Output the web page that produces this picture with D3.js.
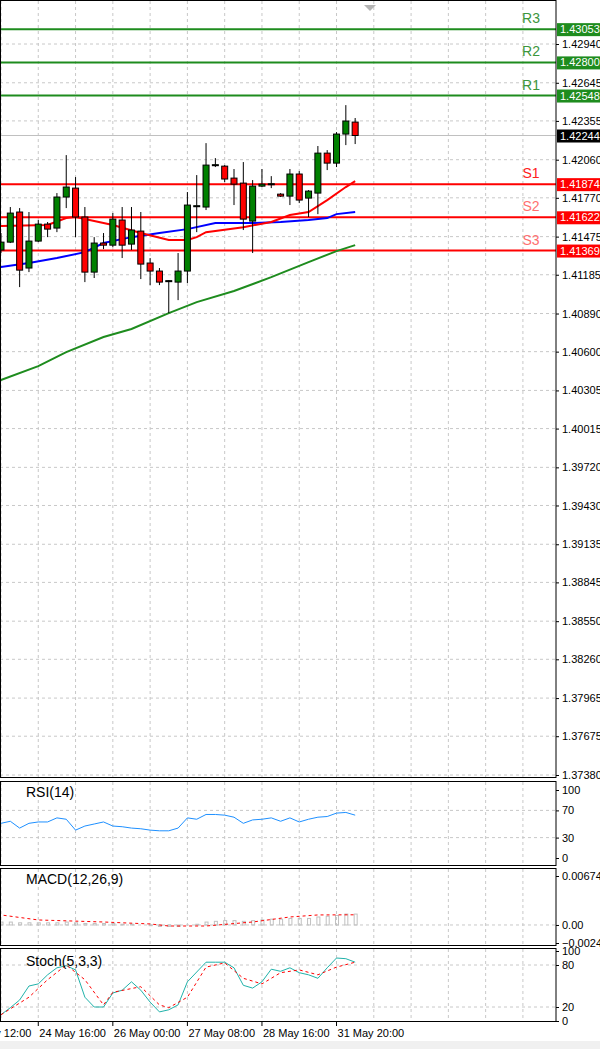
<!DOCTYPE html>
<html>
<head>
<meta charset="utf-8">
<script src="https://cdn.jsdelivr.net/npm/d3@7"></script>
<style>
  body { margin: 0; background: #fff; }
  svg { display: block; font-family: "Liberation Sans", Arial, sans-serif; }
</style>
</head>
<body>
<div class="canvas"></div>
<script>
// H4 candles, [open, high, low, close]
const candles = [
    [1.41373, 1.41502, 1.41350, 1.41433], [1.41433, 1.41700, 1.41426, 1.41654],
    [1.41662, 1.41692, 1.41091, 1.41220], [1.41236, 1.41662, 1.41205, 1.41441],
    [1.41441, 1.41601, 1.41433, 1.41570], [1.41570, 1.41586, 1.41471, 1.41532],
    [1.41540, 1.41806, 1.41509, 1.41776], [1.41776, 1.42095, 1.41692, 1.41852],
    [1.41844, 1.41928, 1.41471, 1.41624], [1.41624, 1.41700, 1.41129, 1.41205],
    [1.41205, 1.41471, 1.41160, 1.41426], [1.41426, 1.41502, 1.41380, 1.41410],
    [1.41410, 1.41654, 1.41395, 1.41608], [1.41601, 1.41700, 1.41312, 1.41410],
    [1.41418, 1.41700, 1.41373, 1.41525], [1.41517, 1.41662, 1.41152, 1.41266],
    [1.41274, 1.41312, 1.41106, 1.41213], [1.41213, 1.41236, 1.41106, 1.41129],
    [1.41137, 1.41144, 1.40893, 1.41140], [1.41129, 1.41350, 1.40992, 1.41213],
    [1.41213, 1.41814, 1.41122, 1.41715], [1.41707, 1.41943, 1.41509, 1.41710],
    [1.41700, 1.42186, 1.41677, 1.42019], [1.42019, 1.42072, 1.42004, 1.42022],
    [1.42011, 1.42019, 1.41890, 1.41913], [1.41920, 1.41989, 1.41715, 1.41874],
    [1.41882, 1.42042, 1.41525, 1.41608], [1.41593, 1.41905, 1.41350, 1.41859],
    [1.41859, 1.41989, 1.41852, 1.41874], [1.41874, 1.41935, 1.41844, 1.41877],
    [1.41798, 1.41806, 1.41776, 1.41783], [1.41783, 1.41989, 1.41715, 1.41951],
    [1.41951, 1.41973, 1.41730, 1.41753], [1.41768, 1.41829, 1.41624, 1.41821],
    [1.41806, 1.42164, 1.41646, 1.42110], [1.42110, 1.42133, 1.41981, 1.42034],
    [1.42034, 1.42270, 1.42004, 1.42255], [1.42255, 1.42475, 1.42171, 1.42354],
    [1.42346, 1.42377, 1.42179, 1.42244]
];

// moving averages, [candle index, value]
const maRed = [[-1, 1.41555], [0, 1.41555], [5, 1.41563], [7, 1.41616], [8, 1.41624], [10, 1.41593],
    [12, 1.41563], [15, 1.41502], [18, 1.41449], [20, 1.41449], [21, 1.41471], [22, 1.41509],
    [26, 1.41547], [29, 1.41586], [31, 1.41639], [33, 1.41662], [35, 1.41753], [37, 1.41852], [38, 1.41897]];
const maBlue = [[-1, 1.41236], [0, 1.41243], [3, 1.41274], [6, 1.41312], [9, 1.41357], [11, 1.41426],
    [14, 1.41471], [17, 1.41502], [20, 1.41532], [23, 1.41578], [27, 1.41578], [30, 1.41586],
    [33, 1.41601], [35, 1.41616], [36, 1.41646], [38, 1.41662]];
const maGreen = [[-1, 1.40370], [0, 1.40384], [4, 1.40490], [7, 1.40597], [11, 1.40711], [14, 1.40772],
    [18, 1.40893], [21, 1.40977], [25, 1.41061], [29, 1.41167], [33, 1.41281], [36, 1.41365], [38, 1.41410]];

const levels = [
    { name: 'R3', value: 1.43053, type: 'r' }, { name: 'R2', value: 1.42800, type: 'r' },
    { name: 'R1', value: 1.42548, type: 'r' }, { name: 'S1', value: 1.41874, type: 's1' },
    { name: 'S2', value: 1.41622, type: 's' }, { name: 'S3', value: 1.41369, type: 's' }
];
const lastPrice = 1.42244;

const priceTicks = [1.42940, 1.42645, 1.42355, 1.42060, 1.41770, 1.41475, 1.41185, 1.40890, 1.40600,
    1.40305, 1.40015, 1.39720, 1.39430, 1.39135, 1.38845, 1.38550, 1.38260, 1.37965, 1.37675, 1.37380];

const rsi = [51, 54, 44, 51, 53, 53, 59, 57, 41, 47, 50, 53, 47, 46, 44, 43, 41, 40, 40, 44,
    59, 57, 64, 64, 63, 60, 51, 56, 57, 59, 54, 59, 53, 57, 60, 61, 66, 67, 63];
const macdHist = [0.0004, 0.0004, 0.0003, 0.0003, 0.0003, 0.0003, 0.0003, 0.0004, 0.0003, 0.0002,
    0.0002, 0.0002, 0.0002, 0.0001, 0.0001, 0.0000, -0.0001, -0.0002, -0.0002, -0.0002,
    0.0000, 0.0001, 0.0004, 0.0005, 0.0006, 0.0006, 0.0005, 0.0006, 0.0007, 0.0008,
    0.0008, 0.0009, 0.0009, 0.0009, 0.0011, 0.0012, 0.0013, 0.0015, 0.0015];
const macdSignal = [[-1, 0.00150], [0, 0.00138], [4, 0.00069], [11, 0.00041], [16, 0.00014], [18, -0.00014],
    [22, -0.00014], [27, 0.00041], [31, 0.00110], [34, 0.00138], [38, 0.00140]];
const stochMain = [9, 19, 30, 50, 53, 66, 76, 79, 73, 34, 20, 20, 40, 44, 56, 44, 27, 13, 16, 23,
    56, 70, 84, 84, 84, 76, 51, 47, 56, 74, 71, 76, 69, 66, 61, 76, 90, 89, 84];
const stochSignal = [[0, 9], [3, 34], [5, 59], [7, 80], [9, 59], [11, 23], [12, 41], [15, 49], [17, 23],
    [18, 19], [20, 34], [22, 77], [24, 83], [26, 61], [28, 53], [30, 69], [32, 73], [34, 66], [36, 77], [38, 84]];

const timeLabels = ['23 May 12:00', '24 May 16:00', '26 May 00:00', '27 May 08:00', '28 May 16:00', '31 May 20:00'];
const timeIdx = [-4, 4, 12, 20, 28, 36];

const W = 600, H = 1049, plotR = 556;
const panels = {
    main: { top: 1, bottom: 778 },
    rsi: { top: 782, bottom: 866 },
    macd: { top: 869, bottom: 946 },
    stoch: { top: 949, bottom: 1022 }
};

const svg = d3.select('.canvas').append('svg').attr('width', W).attr('height', H);

const x = d3.scaleLinear().domain([0, 1]).range([1, 10.32]);
const y = d3.scaleLinear().domain([1.37380, 1.42940]).range([775, 44]);
const yRsi = d3.scaleLinear().domain([0, 100]).range([858, 790]);
const yMacd = d3.scaleLinear().domain([-0.00248, 0.00674]).range([943, 876]);
const yStoch = d3.scaleLinear().domain([0, 100]).range([1021, 951]);

svg.append('defs').selectAll('clipPath').data(Object.entries(panels)).enter()
    .append('clipPath').attr('id', d => 'clip-' + d[0])
    .append('rect').attr('x', 0).attr('y', d => d[1].top).attr('width', plotR).attr('height', d => d[1].bottom - d[1].top);

const gridX = d3.range(-4, 60, 4).map(i => x(i));
const grid = (name, ys) => {
    const g = svg.append('g').attr('clip-path', `url(#clip-${name})`)
        .attr('stroke', '#c8c8c8').attr('stroke-dasharray', '3,3');
    g.selectAll('.gx').data(gridX).enter().append('line')
        .attr('x1', d => d).attr('x2', d => d).attr('y1', panels[name].top).attr('y2', panels[name].bottom);
    g.selectAll('.gy').data(ys).enter().append('line')
        .attr('x1', 0).attr('x2', plotR).attr('y1', d => d).attr('y2', d => d);
};
grid('main', priceTicks.map(y));
grid('rsi', [70, 30].map(yRsi));
grid('macd', [0].map(yMacd));
grid('stoch', [80, 20].map(yStoch));

// main panel
const main = svg.append('g').attr('clip-path', 'url(#clip-main)');
main.append('line').attr('x1', 0).attr('x2', plotR).attr('y1', y(lastPrice)).attr('y2', y(lastPrice))
    .attr('stroke', '#c0c0c0');

const lvlColor = { r: '#1e8c1e', s1: '#ff0000', s: '#ff0000' };
const lblColor = { r: '#3c963c', s1: '#ff2020', s: '#ff7070' };
main.selectAll('.lvl').data(levels).enter().append('line')
    .attr('x1', 0).attr('x2', plotR).attr('y1', d => y(d.value)).attr('y2', d => y(d.value))
    .attr('stroke', d => lvlColor[d.type]).attr('stroke-width', 2);
main.selectAll('.lvlt').data(levels).enter().append('text')
    .attr('x', 531).attr('y', d => y(d.value) - 6).attr('text-anchor', 'middle')
    .attr('font-size', 14).attr('fill', d => lblColor[d.type]).text(d => d.name);

const line = d3.line().x(d => x(d[0])).y(d => y(d[1]));
[[maGreen, '#1e8c1e'], [maBlue, '#0000ff'], [maRed, '#ff0000']].forEach(([d, c]) => {
    main.append('path').datum(d).attr('d', line).attr('fill', 'none').attr('stroke', c).attr('stroke-width', 2);
});

const cg = main.selectAll('.candle').data(candles).enter().append('g');
cg.append('line').attr('x1', (d, i) => x(i)).attr('x2', (d, i) => x(i))
    .attr('y1', d => y(d[1])).attr('y2', d => y(d[2])).attr('stroke', '#000');
cg.append('rect')
    .attr('x', (d, i) => x(i) - 3).attr('width', 6)
    .attr('y', d => y(Math.max(d[0], d[3])))
    .attr('height', d => Math.max(1, Math.abs(y(d[0]) - y(d[3]))))
    .attr('fill', d => d[3] >= d[0] ? '#008000' : '#ff0000')
    .attr('stroke', '#000').attr('stroke-width', 1);

// chart shift marker
svg.append('path').attr('d', 'M364,5 L376,5 L370,11 Z').attr('fill', '#b4b4b4');

// price axis
const ax = svg.append('g').attr('transform', `translate(${plotR},0)`)
    .call(d3.axisRight(y).tickValues(priceTicks).tickFormat(d3.format('.5f')).tickSize(3).tickPadding(3));
ax.select('.domain').remove();
ax.selectAll('text').attr('font-size', 11).attr('font-family', '"Liberation Sans", Arial, sans-serif').attr('fill', '#000');

const boxes = levels.map(d => ({ v: d.value, c: d.type === 'r' ? '#1e8c1e' : '#ff0000' }))
    .concat([{ v: lastPrice, c: '#000' }]);
const bg = svg.selectAll('.box').data(boxes).enter().append('g');
bg.append('rect').attr('x', plotR + 1).attr('y', d => y(d.v) - 6).attr('width', 44).attr('height', 13).attr('fill', d => d.c);
bg.append('text').attr('x', plotR + 4).attr('y', d => y(d.v) + 4).attr('font-size', 11).attr('fill', '#fff')
    .text(d => d3.format('.5f')(d.v));

// RSI
const rsiG = svg.append('g').attr('clip-path', 'url(#clip-rsi)');
rsiG.append('path').datum(rsi).attr('d', d3.line().x((d, i) => x(i)).y(d => yRsi(d)))
    .attr('fill', 'none').attr('stroke', '#1e90ff').attr('stroke-width', 1);

// MACD
const macdG = svg.append('g').attr('clip-path', 'url(#clip-macd)');
macdG.selectAll('.bar').data(macdHist).enter().append('rect')
    .attr('x', (d, i) => x(i) - 1).attr('width', 3)
    .attr('y', d => yMacd(Math.max(0, d))).attr('height', d => Math.abs(yMacd(d) - yMacd(0)))
    .attr('fill', 'none').attr('stroke', '#c0c0c0');
macdG.append('path').datum(macdSignal).attr('d', d3.line().x(d => x(d[0])).y(d => yMacd(d[1])))
    .attr('fill', 'none').attr('stroke', '#ff0000').attr('stroke-dasharray', '3,3');

// Stochastic
const stG = svg.append('g').attr('clip-path', 'url(#clip-stoch)');
stG.append('path').datum(stochMain).attr('d', d3.line().x((d, i) => x(i)).y(d => yStoch(d)))
    .attr('fill', 'none').attr('stroke', '#20b2aa');
stG.append('path').datum(stochSignal).attr('d', d3.line().x(d => x(d[0])).y(d => yStoch(d[1])))
    .attr('fill', 'none').attr('stroke', '#ff0000').attr('stroke-dasharray', '3,3');

// sub-panel axes
const subAxis = (scale, vals, fmt) => {
    const a = svg.append('g').attr('transform', `translate(${plotR},0)`)
        .call(d3.axisRight(scale).tickValues(vals).tickFormat(fmt).tickSize(3).tickPadding(3));
    a.select('.domain').remove();
    a.selectAll('text').attr('font-size', 11).attr('font-family', '"Liberation Sans", Arial, sans-serif');
};
subAxis(yRsi, [100, 70, 30, 0], d3.format('d'));
subAxis(yMacd, [0.00674, 0, -0.00248], d => d === 0 ? '0.00' : d3.format('.5f')(d));
subAxis(yStoch, [100, 80, 20, 0], d3.format('d'));

// panel titles
[['RSI(14)', panels.rsi.top + 15], ['MACD(12,26,9)', panels.macd.top + 15], ['Stoch(5,3,3)', panels.stoch.top + 17]]
    .forEach(([t, ty]) => svg.append('text').attr('x', 26).attr('y', ty).attr('font-size', 14).text(t));

// panel frames
Object.values(panels).forEach(p => {
    svg.append('rect').attr('x', 0.5).attr('y', p.top - 0.5).attr('width', plotR - 0.5).attr('height', p.bottom - p.top)
        .attr('fill', 'none').attr('stroke', '#000');
});

// time axis
const tg = svg.selectAll('.tl').data(timeLabels).enter().append('g');
tg.append('line').attr('x1', (d, i) => x(timeIdx[i])).attr('x2', (d, i) => x(timeIdx[i]))
    .attr('y1', panels.stoch.bottom).attr('y2', panels.stoch.bottom + 4).attr('stroke', '#000');
tg.append('text').attr('x', (d, i) => x(timeIdx[i]) + 1).attr('y', 1037).attr('font-size', 11).text(d => d);

svg.append('rect').attr('x', 0).attr('y', 1041).attr('width', W).attr('height', 8).attr('fill', '#f0f0f0');
</script>
</body>
</html>
